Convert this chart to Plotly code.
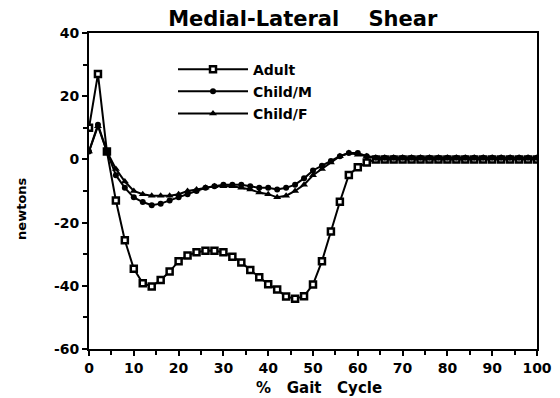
import plotly.graph_objects as go

gait = list(range(0, 101, 2))

adult = [10, 27, 2.5, -13, -25.6, -34.6, -39.2, -40.2, -38.2, -35.5,
         -32.2, -30.4, -29.4, -28.9, -28.9, -29.4, -30.8, -32.6, -35, -37.3,
         -39.5, -41.2, -43.4, -44.1, -43.3, -39.6, -32.2, -22.8, -13.4, -4.9,
         -2.5, -1, 0, 0, 0, 0, 0, 0, 0, 0,
         0, 0, 0, 0, 0, 0, 0, 0, 0, 0, 0]

child_m = [2.5, 11, 2.5, -5, -9, -12, -13.5, -14.5, -14, -13,
           -12, -11, -10, -9, -8.5, -8, -8, -8, -8.5, -9,
           -9, -9.5, -9, -8, -6, -3.5, -2, -0.5, 1, 2,
           2, 1, 0.5, 0.5, 0.5, 0.5, 0.5, 0.5, 0.5, 0.5,
           0.5, 0.5, 0.5, 0.5, 0.5, 0.5, 0.5, 0.5, 0.5, 0.5, 0.5]

child_f = [2.5, 10.5, 2.5, -3, -7, -10, -11, -11.5, -11.5, -11.5,
           -11, -10, -9.5, -9, -8.5, -8.5, -8.5, -9, -9.5, -10.5,
           -11, -12, -11.5, -10, -8, -5, -3, -1, 1, 2,
           1.5, 1, 0.5, 0.5, 0.5, 0.5, 0.5, 0.5, 0.5, 0.5,
           0.5, 0.5, 0.5, 0.5, 0.5, 0.5, 0.5, 0.5, 0.5, 0.5, 0.5]

x_ticks = list(range(0, 101, 10))
y_ticks = list(range(-60, 41, 20))

FONT = "DejaVu Sans"
NB = "\u00a0"

fig = go.Figure()
fig.add_trace(go.Scatter(
    x=gait, y=adult, name="<b>Adult</b>", mode="lines+markers", legendgroup="a",
    line=dict(color="black", width=2),
    marker=dict(symbol="square", size=6, color="white",
                line=dict(color="black", width=2.5)),
))
fig.add_trace(go.Scatter(
    x=gait, y=child_m, name="<b>Child/M</b>", mode="lines+markers", legendgroup="m",
    line=dict(color="black", width=2),
    marker=dict(symbol="circle", size=6, color="black"),
))
fig.add_trace(go.Scatter(
    x=gait, y=child_f, name="<b>Child/F</b>", mode="lines+markers", legendgroup="f",
    line=dict(color="black", width=2),
    marker=dict(symbol="triangle-up", size=7, color="black"),
))

fig.update_layout(
    width=552, height=390,
    margin=dict(l=81, r=23, t=25, b=49),
    paper_bgcolor="white", plot_bgcolor="white",
    font=dict(family=FONT, color="black", size=14),
    title=dict(text=f"<b>Medial-Lateral{NB*4}Shear</b>",
               x=0.534, xanchor="center", y=0.972, yanchor="middle",
               font=dict(size=21, family=FONT)),
    showlegend=True,
    legend=dict(x=0.1875, y=0.935, xanchor="left", yanchor="top",
                bgcolor="rgba(0,0,0,0)", itemwidth=70,
                font=dict(size=14, family=FONT), tracegroupgap=1),
    xaxis=dict(range=[0, 100], tickvals=x_ticks, automargin=False,
               ticktext=[f"<b>{v}</b>" for v in x_ticks],
               showgrid=False, zeroline=False,
               showline=True, linecolor="black", linewidth=2, mirror=True,
               ticks="outside", ticklen=5, tickwidth=2, tickcolor="black",
               minor=dict(dtick=5, ticks="outside", ticklen=4, tickwidth=2, tickcolor="black"),
               tickfont=dict(size=14)),
    yaxis=dict(range=[-60, 40], tickvals=y_ticks, automargin=False,
               ticktext=[f"<b>{v}</b>" for v in y_ticks],
               showgrid=False, zeroline=False,
               showline=True, linecolor="black", linewidth=2, mirror=True,
               ticks="outside", ticklen=5, tickwidth=2, tickcolor="black",
               minor=dict(dtick=10, ticks="outside", ticklen=4, tickwidth=2, tickcolor="black"),
               tickfont=dict(size=14)),
    annotations=[
        dict(text=f"<b>%{NB*3}Gait{NB*3}Cycle</b>", xref="paper", yref="paper",
             x=0.513, y=-0.123, xanchor="center", yanchor="middle", showarrow=False,
             font=dict(size=15, family=FONT)),
        dict(text="<b>newtons</b>", xref="paper", yref="paper", textangle=-90,
             x=-0.152, y=0.443, xanchor="center", yanchor="middle", showarrow=False,
             font=dict(size=13, family=FONT)),
    ],
)

fig.write_html("out.html")
